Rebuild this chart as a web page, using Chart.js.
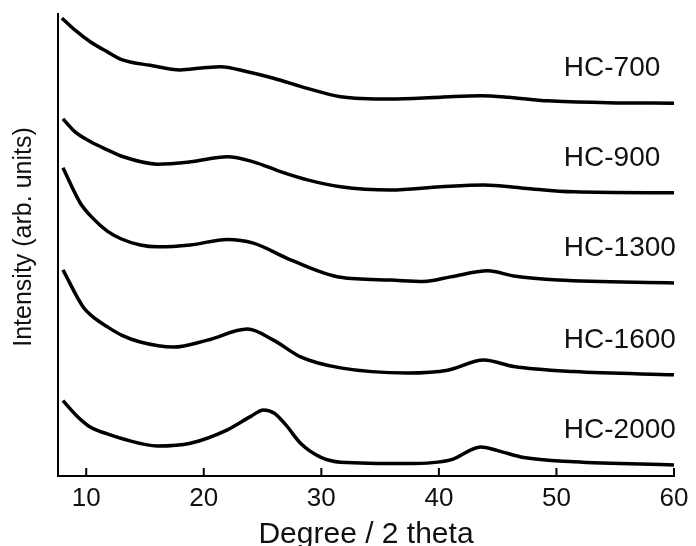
<!DOCTYPE html>
<html>
<head>
<meta charset="utf-8">
<script src="https://cdn.jsdelivr.net/npm/chart.js@4.4.1/dist/chart.umd.min.js"></script>
<style>
  html, body { margin: 0; padding: 0; background: #fff; }
  #wrap { width: 696px; height: 546px; }
</style>
</head>
<body>
<div id="wrap"><canvas id="c" width="696" height="546"></canvas></div>
<script>
// ---- data ----
const seriesNames = ["HC-700", "HC-900", "HC-1300", "HC-1600", "HC-2000"];
const xTicks = [10, 20, 30, 40, 50, 60];

const hc700X = [7.93, 9.0, 10.34, 11.8, 13.15, 15.45, 18.0, 19.8, 21.41, 23.71, 25.93, 28.82, 31.64, 35.89, 40.15, 43.56, 45.86, 49.27, 54.38, 60];
const hc700Y = [99.1, 96.6, 94.0, 91.8, 90.0, 88.9, 87.9, 88.3, 88.6, 87.5, 86.1, 83.9, 82.1, 81.6, 82.0, 82.3, 82.0, 81.2, 80.8, 80.7];

const hc900X = [8.02, 9.0, 10.34, 11.8, 13.15, 16.05, 18.86, 22.01, 24.22, 26.52, 28.82, 31.64, 35.89, 40.15, 43.82, 47.22, 51.48, 60];
const hc900Y = [77.3, 74.6, 72.4, 70.6, 69.1, 67.5, 68.0, 69.1, 68.0, 65.9, 64.1, 62.6, 61.9, 62.6, 63.0, 62.3, 61.5, 61.3];

const hc1300X = [8.02, 9.49, 10.6, 11.79, 13.0, 14.6, 16.05, 18.86, 22.01, 24.22, 27.38, 31.64, 35.89, 38.7, 41.0, 44.16, 46.37, 50.12, 60];
const hc1300Y = [66.7, 59.1, 55.7, 53.0, 51.3, 50.0, 49.6, 50.0, 51.2, 50.4, 46.8, 43.0, 42.4, 42.1, 43.1, 44.4, 43.3, 42.4, 41.8];

const hc1600X = [8.02, 9.74, 10.8, 11.79, 13.0, 14.6, 17.41, 20.31, 23.71, 25.93, 28.23, 31.64, 37.34, 40.75, 43.82, 46.37, 51.48, 60];
const hc1600Y = [44.6, 36.6, 34.0, 32.3, 30.5, 29.0, 27.9, 29.4, 31.8, 29.4, 25.8, 23.4, 22.3, 22.9, 25.1, 23.7, 22.6, 21.9];

const hc2000X = [8.02, 9.2, 10.34, 11.8, 13.15, 16.05, 18.86, 22.01, 24.0, 25.08, 26.0, 27.0, 28.23, 29.93, 31.64, 37.34, 41.0, 43.56, 45.0, 47.22, 51.48, 60];
const hc2000Y = [16.3, 13.0, 10.6, 9.1, 8.0, 6.5, 7.1, 10.0, 12.9, 14.3, 13.6, 11.0, 7.1, 4.1, 3.0, 2.7, 3.5, 6.3, 5.5, 4.0, 3.1, 2.4];

const allX = [hc700X, hc900X, hc1300X, hc1600X, hc2000X];
const allY = [hc700Y, hc900Y, hc1300Y, hc1600Y, hc2000Y];

// ---- build datasets ----
const datasets = seriesNames.map((name, i) => ({
  label: name,
  data: allX[i].map((x, j) => ({ x: x, y: allY[i][j] })),
  borderColor: '#000',
  borderWidth: 3.5,
  pointRadius: 0,
  cubicInterpolationMode: 'monotone',
  fill: false
}));

const FONT = "'Liberation Sans', Arial, sans-serif";

const decorPlugin = {
  id: 'decor',
  afterDraw(chart) {
    const ctx = chart.ctx;
    const xs = chart.scales.x, ys = chart.scales.y;
    ctx.save();
    // inward x ticks
    ctx.strokeStyle = '#000';
    ctx.lineWidth = 2;
    xs.ticks.forEach(t => {
      const px = xs.getPixelForValue(t.value);
      ctx.beginPath();
      ctx.moveTo(px, ys.bottom);
      ctx.lineTo(px, ys.bottom - 8);
      ctx.stroke();
    });
    // series labels
    ctx.fillStyle = '#111';
    ctx.font = "28px " + FONT;
    ctx.textAlign = 'left';
    ctx.textBaseline = 'middle';
    const labelX = xs.getPixelForValue(50.63);
    seriesNames.forEach((name, i) => {
      const yv = allY[i][allY[i].length - 1];
      const py = ys.getPixelForValue(yv) - 35;
      ctx.fillText(name, labelX, py);
    });
    // y-axis title
    ctx.save();
    ctx.translate(24, (ys.top + ys.bottom) / 2 - 8);
    ctx.rotate(-Math.PI / 2);
    ctx.font = "25px " + FONT;
    ctx.textAlign = 'center';
    ctx.textBaseline = 'middle';
    ctx.fillText('Intensity (arb. units)', 0, 0);
    ctx.restore();
    ctx.restore();
  }
};

new Chart(document.getElementById('c'), {
  type: 'line',
  data: { datasets: datasets },
  options: {
    responsive: false,
    animation: false,
    layout: { padding: { left: 5, right: 22, top: 14, bottom: 0 } },
    plugins: { legend: { display: false }, tooltip: { enabled: false } },
    scales: {
      x: {
        type: 'linear',
        min: 7.6,
        max: 60,
        afterBuildTicks(scale) { scale.ticks = xTicks.map(v => ({ value: v })); },
        afterFit(scale) { scale.height = 70; },
        grid: { display: true, drawOnChartArea: false, drawTicks: false },
        border: { display: true, color: '#000', width: 2 },
        ticks: {
          color: '#111',
          font: { family: FONT, size: 26 },
          padding: 7,
          maxRotation: 0,
          autoSkip: false
        },
        title: {
          display: true,
          text: 'Degree / 2 theta',
          color: '#111',
          font: { family: FONT, size: 30 },
          padding: { top: 0, bottom: -7 }
        }
      },
      y: {
        type: 'linear',
        min: 0,
        max: 100,
        afterFit(scale) { scale.width = 53; },
        grid: { display: true, drawOnChartArea: false, drawTicks: false },
        border: { display: true, color: '#000', width: 2 },
        ticks: { display: false },
        title: { display: false }
      }
    }
  },
  plugins: [decorPlugin]
});
</script>
</body>
</html>
